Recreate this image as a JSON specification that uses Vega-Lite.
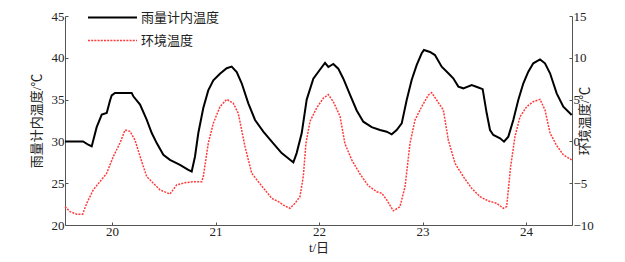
{
  "$schema": "https://vega.github.io/schema/vega-lite/v6.json",
  "width": 507,
  "height": 209,
  "autosize": {"type": "none"},
  "padding": {"left": 65, "top": 16, "right": 53, "bottom": 37},
  "background": "white",
  "config": {
    "view": {"stroke": null},
    "font": "Liberation Serif, Noto Sans CJK SC",
    "axis": {
      "grid": false,
      "domainColor": "#555",
      "tickColor": "#555",
      "labelColor": "#222",
      "titleColor": "#222",
      "labelFont": "Liberation Serif, Noto Sans CJK SC",
      "titleFont": "Liberation Serif, Noto Sans CJK SC",
      "labelFontSize": 13,
      "titleFontSize": 13,
      "titleFontWeight": "normal"
    },
    "legend": {
      "labelFont": "Liberation Serif, Noto Sans CJK SC",
      "labelFontSize": 13,
      "labelColor": "#222"
    }
  },
  "datasets": {
    "inner": [
      {"t": 19.546, "v": 30.0}, {"t": 19.72, "v": 30.0}, {"t": 19.771, "v": 29.6}, {"t": 19.804, "v": 29.4},
      {"t": 19.852, "v": 31.7}, {"t": 19.901, "v": 33.2}, {"t": 19.949, "v": 33.4}, {"t": 19.981, "v": 34.9},
      {"t": 19.997, "v": 35.5}, {"t": 20.029, "v": 35.8}, {"t": 20.106, "v": 35.8}, {"t": 20.19, "v": 35.8},
      {"t": 20.206, "v": 35.4}, {"t": 20.271, "v": 34.4}, {"t": 20.335, "v": 32.6}, {"t": 20.384, "v": 31.0},
      {"t": 20.432, "v": 29.8}, {"t": 20.496, "v": 28.4}, {"t": 20.56, "v": 27.8}, {"t": 20.657, "v": 27.2},
      {"t": 20.737, "v": 26.6}, {"t": 20.77, "v": 26.4}, {"t": 20.802, "v": 28.2}, {"t": 20.834, "v": 31.0},
      {"t": 20.882, "v": 34.0}, {"t": 20.93, "v": 36.1}, {"t": 20.979, "v": 37.3}, {"t": 21.043, "v": 38.1},
      {"t": 21.108, "v": 38.75}, {"t": 21.156, "v": 38.95}, {"t": 21.205, "v": 38.3}, {"t": 21.253, "v": 36.95},
      {"t": 21.317, "v": 34.55}, {"t": 21.382, "v": 32.56}, {"t": 21.462, "v": 31.16}, {"t": 21.558, "v": 29.77},
      {"t": 21.639, "v": 28.6}, {"t": 21.72, "v": 27.8}, {"t": 21.752, "v": 27.5}, {"t": 21.784, "v": 28.6},
      {"t": 21.833, "v": 31.0}, {"t": 21.881, "v": 35.0}, {"t": 21.945, "v": 37.5}, {"t": 22.01, "v": 38.6},
      {"t": 22.058, "v": 39.4}, {"t": 22.09, "v": 38.9}, {"t": 22.138, "v": 39.26}, {"t": 22.186, "v": 38.7},
      {"t": 22.235, "v": 37.5}, {"t": 22.299, "v": 35.6}, {"t": 22.364, "v": 33.7}, {"t": 22.428, "v": 32.36},
      {"t": 22.509, "v": 31.7}, {"t": 22.589, "v": 31.36}, {"t": 22.654, "v": 31.16}, {"t": 22.702, "v": 30.85},
      {"t": 22.75, "v": 31.36}, {"t": 22.799, "v": 32.16}, {"t": 22.847, "v": 34.95}, {"t": 22.895, "v": 37.34},
      {"t": 22.944, "v": 39.15}, {"t": 22.992, "v": 40.54}, {"t": 23.014, "v": 40.93}, {"t": 23.072, "v": 40.7},
      {"t": 23.12, "v": 40.33}, {"t": 23.185, "v": 38.94}, {"t": 23.249, "v": 38.15}, {"t": 23.297, "v": 37.55},
      {"t": 23.346, "v": 36.55}, {"t": 23.394, "v": 36.35}, {"t": 23.475, "v": 36.75}, {"t": 23.539, "v": 36.45},
      {"t": 23.581, "v": 36.25}, {"t": 23.62, "v": 33.36}, {"t": 23.652, "v": 31.36}, {"t": 23.684, "v": 30.77},
      {"t": 23.749, "v": 30.37}, {"t": 23.787, "v": 29.97}, {"t": 23.829, "v": 30.57}, {"t": 23.877, "v": 32.56},
      {"t": 23.925, "v": 34.95}, {"t": 23.974, "v": 36.95}, {"t": 24.022, "v": 38.34}, {"t": 24.07, "v": 39.34},
      {"t": 24.135, "v": 39.8}, {"t": 24.183, "v": 39.34}, {"t": 24.232, "v": 38.15}, {"t": 24.296, "v": 35.75},
      {"t": 24.36, "v": 34.15}, {"t": 24.441, "v": 33.16}
    ],
    "env": [
      {"t": 19.546, "v": -7.8}, {"t": 19.594, "v": -8.4}, {"t": 19.659, "v": -8.7}, {"t": 19.717, "v": -8.7},
      {"t": 19.756, "v": -7.4}, {"t": 19.819, "v": -5.8}, {"t": 19.884, "v": -4.8}, {"t": 19.949, "v": -3.8},
      {"t": 20.013, "v": -1.8}, {"t": 20.077, "v": -0.2}, {"t": 20.126, "v": 1.36}, {"t": 20.174, "v": 1.2},
      {"t": 20.222, "v": 0.17}, {"t": 20.271, "v": -1.8}, {"t": 20.335, "v": -4.2}, {"t": 20.399, "v": -5.0},
      {"t": 20.464, "v": -5.8}, {"t": 20.56, "v": -6.3}, {"t": 20.625, "v": -5.2}, {"t": 20.705, "v": -4.94},
      {"t": 20.785, "v": -4.82}, {"t": 20.867, "v": -4.82}, {"t": 20.882, "v": -4.2}, {"t": 20.93, "v": -0.23},
      {"t": 20.979, "v": 2.16}, {"t": 21.043, "v": 4.15}, {"t": 21.108, "v": 5.03}, {"t": 21.172, "v": 4.56},
      {"t": 21.22, "v": 3.36}, {"t": 21.285, "v": -0.63}, {"t": 21.35, "v": -3.82}, {"t": 21.414, "v": -4.82},
      {"t": 21.478, "v": -5.81}, {"t": 21.543, "v": -6.81}, {"t": 21.607, "v": -7.2}, {"t": 21.671, "v": -7.73},
      {"t": 21.72, "v": -8.0}, {"t": 21.768, "v": -7.4}, {"t": 21.816, "v": -6.6}, {"t": 21.848, "v": -4.2},
      {"t": 21.874, "v": -0.2}, {"t": 21.913, "v": 2.4}, {"t": 21.977, "v": 4.0}, {"t": 22.041, "v": 5.16},
      {"t": 22.09, "v": 5.6}, {"t": 22.138, "v": 4.75}, {"t": 22.203, "v": 3.0}, {"t": 22.251, "v": -0.3},
      {"t": 22.316, "v": -2.2}, {"t": 22.396, "v": -3.9}, {"t": 22.476, "v": -5.3}, {"t": 22.557, "v": -6.02},
      {"t": 22.606, "v": -6.2}, {"t": 22.654, "v": -7.0}, {"t": 22.718, "v": -8.3}, {"t": 22.782, "v": -7.81},
      {"t": 22.831, "v": -5.42}, {"t": 22.879, "v": -0.23}, {"t": 22.927, "v": 2.56}, {"t": 22.992, "v": 4.15},
      {"t": 23.056, "v": 5.55}, {"t": 23.088, "v": 5.83}, {"t": 23.136, "v": 4.95}, {"t": 23.201, "v": 3.76},
      {"t": 23.249, "v": 0.17}, {"t": 23.314, "v": -2.62}, {"t": 23.394, "v": -4.22}, {"t": 23.475, "v": -5.61},
      {"t": 23.555, "v": -6.61}, {"t": 23.636, "v": -7.13}, {"t": 23.717, "v": -7.4}, {"t": 23.78, "v": -8.0},
      {"t": 23.813, "v": -7.8}, {"t": 23.851, "v": -3.03}, {"t": 23.893, "v": 0.57}, {"t": 23.942, "v": 2.96},
      {"t": 24.006, "v": 4.15}, {"t": 24.07, "v": 4.75}, {"t": 24.135, "v": 5.03}, {"t": 24.183, "v": 3.76},
      {"t": 24.232, "v": 1.0}, {"t": 24.296, "v": -0.5}, {"t": 24.36, "v": -1.6}, {"t": 24.441, "v": -2.22}
    ]
  },
  "encoding": {
    "x": {
      "field": "t",
      "type": "quantitative",
      "scale": {"domain": [19.546, 24.444], "nice": false, "zero": false},
      "axis": {
        "title": "t/日",
        "values": [20, 20.5, 21, 21.5, 22, 22.5, 23, 23.5, 24],
        "format": "d",
        "labelExpr": "datum.value % 1 == 0 ? datum.label : ''",
        "tickSize": -3,
        "labelPadding": 3,
        "titlePadding": 3
      }
    }
  },
  "layer": [
    {
      "data": {"name": "inner"},
      "mark": {"type": "line", "strokeWidth": 2, "interpolate": "linear"},
      "encoding": {
        "y": {
          "field": "v",
          "type": "quantitative",
          "scale": {"domain": [20, 45], "nice": false, "zero": false},
          "axis": {
            "title": "雨量计内温度/℃",
            "orient": "left",
            "values": [20, 25, 30, 35, 40, 45],
            "tickSize": -3,
            "labelPadding": 4,
            "titlePadding": 8
          }
        },
        "color": {
          "datum": "雨量计内温度",
          "scale": {"range": ["#000000"]},
          "legend": {
            "title": null,
            "orient": "none",
            "legendX": 22,
            "legendY": -24,
            "symbolType": "stroke",
            "symbolSize": 2401,
            "symbolStrokeWidth": 2,
            "labelOffset": 3
          }
        }
      }
    },
    {
      "data": {"name": "env"},
      "mark": {"type": "line", "strokeWidth": 1.5, "strokeDash": [2, 1.2], "interpolate": "linear"},
      "encoding": {
        "y": {
          "field": "v",
          "type": "quantitative",
          "scale": {"domain": [-10, 15], "nice": false, "zero": false},
          "axis": {
            "title": "环境温度/℃",
            "orient": "right",
            "values": [-10, -5, 0, 5, 10, 15],
            "tickSize": -3,
            "labelPadding": 4,
            "titleAngle": -90,
            "titlePadding": -2
          }
        },
        "color": {
          "datum": "环境温度",
          "scale": {"range": ["#ff3b3b"]},
          "legend": {
            "title": null,
            "orient": "none",
            "legendX": 22,
            "legendY": -1,
            "symbolType": "stroke",
            "symbolSize": 2401,
            "symbolStrokeWidth": 1.5,
            "symbolDash": [2, 1.2],
            "labelOffset": 3
          }
        }
      }
    }
  ],
  "resolve": {"scale": {"y": "independent", "color": "independent"}}
}
